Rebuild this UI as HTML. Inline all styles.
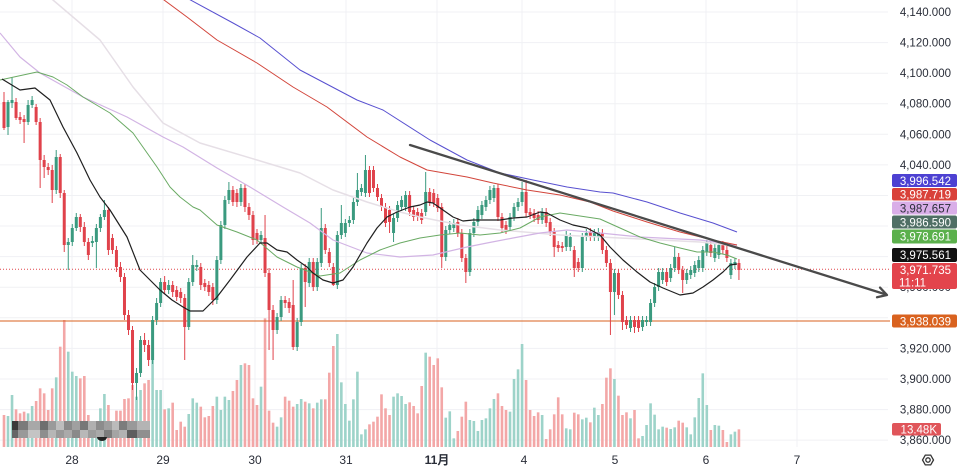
<!DOCTYPE html>
<html><head><meta charset="utf-8">
<style>
html,body{margin:0;padding:0;background:#fff;}
body{width:960px;height:472px;overflow:hidden;position:relative;font-family:"Liberation Sans","Noto Sans CJK SC",sans-serif;}
svg{position:absolute;left:0;top:0;}
.ax{font-family:"Liberation Sans",sans-serif;font-size:11.5px;fill:#2a2e39;}
.bx{font-family:"Liberation Sans",sans-serif;font-size:11.5px;fill:#fff;}
.dl{font-family:"Liberation Sans","Noto Sans CJK SC",sans-serif;font-size:12px;fill:#2a2e39;}
</style></head><body>
<svg id="c" width="960" height="472" viewBox="0 0 960 472" xmlns="http://www.w3.org/2000/svg">
<g stroke="#f0f1f4" stroke-width="1">
<line x1="0" x2="888" y1="12" y2="12"/><line x1="0" x2="888" y1="42.6" y2="42.6"/><line x1="0" x2="888" y1="73.2" y2="73.2"/><line x1="0" x2="888" y1="103.7" y2="103.7"/><line x1="0" x2="888" y1="134.3" y2="134.3"/><line x1="0" x2="888" y1="164.9" y2="164.9"/><line x1="0" x2="888" y1="195.5" y2="195.5"/><line x1="0" x2="888" y1="226" y2="226"/><line x1="0" x2="888" y1="256.6" y2="256.6"/><line x1="0" x2="888" y1="287.2" y2="287.2"/><line x1="0" x2="888" y1="317.8" y2="317.8"/><line x1="0" x2="888" y1="348.4" y2="348.4"/><line x1="0" x2="888" y1="379" y2="379"/><line x1="0" x2="888" y1="409.6" y2="409.6"/><line x1="0" x2="888" y1="440.1" y2="440.1"/>
<line x1="72" x2="72" y1="0" y2="447"/><line x1="163" x2="163" y1="0" y2="447"/><line x1="255" x2="255" y1="0" y2="447"/><line x1="346" x2="346" y1="0" y2="447"/><line x1="437" x2="437" y1="0" y2="447"/><line x1="522" x2="522" y1="0" y2="447"/><line x1="615" x2="615" y1="0" y2="447"/><line x1="706" x2="706" y1="0" y2="447"/><line x1="797" x2="797" y1="0" y2="447"/>
</g>
<g id="vol"></g>
<line x1="0" x2="890" y1="321" y2="321" stroke="#d9621f" stroke-width="1"/>
<line x1="0" x2="890" y1="269.3" y2="269.3" stroke="#e0474c" stroke-width="1" stroke-dasharray="1,2"/>
<g id="cand"></g>
<g fill="none" stroke-linejoin="round">
<polyline stroke="#e6dfe6" stroke-width="1.5" points="40,-10 53,0 100,40 133,87 163,123 200,143 257,160 300,173 333,190 367,202 400,212 420,217 460,225 500,230 560,235 620,238 700,242 737,246"/>
<polyline stroke="#d2b4e4" stroke-width="1.2" points="0,33 20,57 40,73 83,97 127,117 163,137 183,147 217,168 250,187 283,207 310,223 333,240 367,253 400,257 433,255 467,247 487,243 513,238 540,233 567,230 600,233 640,237 700,240 737,245"/>
<polyline stroke="#d2453b" stroke-width="1" points="160,-3 187,17 217,40 257,63 293,87 327,107 367,137 400,157 427,170 467,177 493,183 527,190 560,195 590,202 613,211 647,222 680,232 713,240 737,245"/>
<polyline stroke="#5850d0" stroke-width="1" points="185,-3 233,23 260,38 300,70 357,100 383,110 430,140 467,160 500,173 533,180 567,187 600,192 613,193 647,202 680,213 713,223 737,232"/>
<polyline stroke="#6aaa64" stroke-width="1" points="0,80 37,72 53,77 67,85 83,97 110,113 133,133 157,167 170,187 180,197 193,207 200,210 217,225 237,232 257,240 277,257 297,267 320,276 340,273 360,260 380,250 400,243 420,238 440,235 460,233 480,235 500,233 520,228 540,217 560,213 580,216 600,219 620,228 640,237 660,243 680,248 697,252 713,252 727,255 737,259"/>
<polyline stroke="#1f1f1f" stroke-width="1.2" points="2,79 20,90 35,88 50,100 63,127 77,153 90,180 100,197 110,210 127,237 140,270 157,287 160,290 172,300 183,307 190,311 203,311 217,297 230,280 247,257 260,243 267,243 277,250 287,252 297,260 307,267 313,273 323,280 333,283 343,280 353,267 367,243 377,228 387,217 397,212 410,207 420,205 427,202 433,203 443,210 453,217 463,221 473,220 487,220 500,220 513,218 527,217 540,212 547,213 560,220 573,225 587,228 600,235 610,247 623,260 637,272 650,282 663,288 680,295 693,293 703,287 713,280 723,272 730,265 737,264"/>
<line x1="410" y1="145" x2="886" y2="294.5" stroke="#4a4a4a" stroke-width="2.3" stroke-linecap="round"/>
<polyline stroke="#4a4a4a" stroke-width="2.3" stroke-linecap="round" points="880,287.6 887,295 877,297.2"/>
</g>
<g>
<rect x="12" y="421" width="6" height="9" fill="#3a3a3a"/><rect x="18" y="421" width="10" height="9" fill="#7a7a7a"/><rect x="28" y="421" width="12" height="9" fill="#a8a8a8"/><rect x="40" y="421" width="8" height="9" fill="#6e6e6e"/><rect x="48" y="421" width="8" height="9" fill="#9a9a9a"/><rect x="56" y="421" width="8" height="9" fill="#bdbdbd"/><rect x="64" y="421" width="8" height="9" fill="#8a8a8a"/><rect x="72" y="421" width="8" height="9" fill="#a0a0a0"/><rect x="80" y="421" width="8" height="9" fill="#777"/><rect x="88" y="421" width="8" height="9" fill="#b0b0b0"/><rect x="96" y="421" width="8" height="9" fill="#8c8c8c"/><rect x="104" y="421" width="8" height="9" fill="#9e9e9e"/><rect x="112" y="421" width="7" height="9" fill="#bbb"/><rect x="119" y="421" width="8" height="9" fill="#7c7c7c"/><rect x="127" y="421" width="10" height="9" fill="#999"/><rect x="137" y="421" width="13" height="9" fill="#b4b4b4"/>
<rect x="12" y="430" width="6" height="8" fill="#666"/><rect x="18" y="430" width="10" height="8" fill="#999"/><rect x="28" y="430" width="12" height="8" fill="#c4c4c4"/><rect x="40" y="430" width="8" height="8" fill="#8e8e8e"/><rect x="48" y="430" width="8" height="8" fill="#b6b6b6"/><rect x="56" y="430" width="8" height="8" fill="#999"/><rect x="64" y="430" width="8" height="8" fill="#aaa"/><rect x="72" y="430" width="8" height="8" fill="#8a8a8a"/><rect x="80" y="430" width="8" height="8" fill="#b8b8b8"/><rect x="88" y="430" width="8" height="8" fill="#9c9c9c"/><rect x="96" y="430" width="8" height="8" fill="#a9a9a9"/><rect x="104" y="430" width="8" height="8" fill="#7d7d7d"/><rect x="112" y="430" width="7" height="8" fill="#a4a4a4"/><rect x="119" y="430" width="8" height="8" fill="#b2b2b2"/><rect x="127" y="430" width="10" height="8" fill="#5e5e5e"/><rect x="137" y="430" width="13" height="8" fill="#8f8f8f"/>
<path d="M97,437 a5,4 0 0 0 10,0" fill="#222"/>
</g>
<g class="ax" text-anchor="end">
<text x="951" y="16">4,140.000</text><text x="951" y="46.6">4,120.000</text><text x="951" y="77.2">4,100.000</text><text x="951" y="107.7">4,080.000</text><text x="951" y="138.3">4,060.000</text><text x="951" y="168.9">4,040.000</text>
<text x="951" y="291.2">3,960.000</text>
<text x="951" y="352.4">3,920.000</text><text x="951" y="383">3,900.000</text><text x="951" y="413.6">3,880.000</text><text x="951" y="444.1">3,860.000</text>
</g>
<g>
<rect x="892" y="174" width="65" height="13" rx="2" fill="#4d41d2"/>
<rect x="892" y="188" width="65" height="12.5" rx="2" fill="#d9413a"/>
<rect x="892" y="201.5" width="65" height="13" rx="2" fill="#d9aee8"/>
<rect x="892" y="215.5" width="65" height="13" rx="2" fill="#4f6f65"/>
<rect x="892" y="229.5" width="65" height="14" rx="2" fill="#5bb04c"/>
<rect x="892" y="248" width="65" height="14" rx="2" fill="#111"/>
<rect x="892" y="263" width="65" height="26" rx="2" fill="#e3444c"/>
<rect x="892" y="314.5" width="65" height="13" rx="2" fill="#d9621f"/>
<rect x="892" y="423" width="49" height="12.5" rx="2" fill="#e0555a"/>
</g>
<g class="bx" text-anchor="end">
<text x="951" y="185">3,996.542</text>
<text x="951" y="198.5">3,987.719</text>
<text x="951" y="212.5" style="fill:#2a2e39">3,987.657</text>
<text x="951" y="226.5">3,986.590</text>
<text x="951" y="240.5">3,978.691</text>
<text x="951" y="259">3,975.561</text>
<text x="951" y="274">3,971.735</text>
<text x="899" y="286.5" text-anchor="start">11:11</text>
<text x="951" y="325.5">3,938.039</text>
<text x="937" y="433.5">13.48K</text>
</g>
<g class="dl" text-anchor="middle">
<text x="72" y="464">28</text><text x="163" y="464">29</text><text x="255" y="464">30</text><text x="346" y="464">31</text><text x="437" y="464" font-weight="bold">11月</text><text x="524" y="464">4</text><text x="615" y="464">5</text><text x="706" y="464">6</text><text x="797" y="464">7</text>
</g>
<g fill="none" stroke="#333" stroke-width="1.3">
<polygon points="933.5,460 930.7,464.9 925.3,464.9 922.5,460 925.3,455.1 930.7,455.1"/>
<circle cx="928" cy="460" r="2.2"/>
</g>
</svg>
<script>
(function(){
var C=[[102,128,92,130],[127,102,100,135],[103,100,77,108],[102,118,98,120],[117,120,112,124],[119,122,115,143],[122,105,100,125],[105,100,96,108],[107,122,104,125],[122,160,118,188],
[160,167,155,178],[167,170,163,175],[170,190,165,203],[190,157,150,194],[157,193,154,198],[193,245,190,252],[245,242,238,270],[242,228,224,246],[228,217,213,231],[217,227,214,232],
[227,242,222,246],[242,255,238,260],[243,241,236,247],[242,228,224,268],[228,217,214,232],[217,210,200,220],[210,250,207,255],[238,250,234,254],[250,267,246,272],[267,277,262,282],
[277,315,273,320],[315,330,310,335],[330,383,326,390],[383,373,368,400],[373,340,336,377],[340,345,333,352],[345,360,340,366],[360,320,316,364],[320,303,298,325],[303,282,278,307],
[282,290,276,294],[290,285,280,294],[285,292,281,297],[290,297,286,301],[292,298,288,303],[298,327,294,360],[327,282,278,330],[282,265,255,286],[267,265,260,271],[267,285,263,290],
[283,287,279,291],[285,292,281,296],[287,300,283,305],[300,260,256,304],[260,225,221,264],[225,200,196,229],[200,190,182,204],[190,202,186,206],[193,202,189,207],[202,188,184,206],
[188,207,184,212],[207,215,203,220],[215,240,211,245],[233,240,229,244],[240,235,231,244],[238,273,215,277],[273,310,268,350],[310,330,305,360],[330,317,313,334],[317,300,296,321],
[300,303,296,308],[302,308,298,313],[305,347,280,350],[347,322,318,351],[322,268,264,326],[268,282,264,307],[283,262,258,287],[262,287,258,291],[287,262,258,291],[263,228,208,267],
[228,250,224,254],[252,263,248,267],[267,285,263,286],[285,235,231,289],[235,223,205,239],[233,223,219,237],[223,220,216,227],[220,202,198,224],[202,190,173,206],[192,188,184,196],
[193,170,155,197],[170,193,166,197],[170,188,166,192],[188,197,184,201],[198,207,194,211],[207,223,203,227],[210,222,206,233],[233,218,214,242],[218,205,201,222],[207,200,196,211],
[207,195,191,211],[195,212,191,216],[210,217,206,221],[212,217,208,221],[213,220,209,224],[212,192,172,216],[192,202,188,206],[193,203,189,207],[198,208,194,212],[207,257,203,268],
[257,230,226,261],[230,225,221,234],[228,223,219,232],[222,233,218,237],[233,258,229,262],[258,272,254,283],[272,233,229,276],[233,222,218,237],[222,210,206,226],[215,205,201,219],
[207,200,196,211],[200,190,186,204],[198,188,185,202],[188,217,184,221],[217,228,213,232],[225,230,221,234],[227,217,213,231],[217,207,203,221],[207,202,198,211],[202,192,182,206],
[192,213,180,217],[212,215,208,219],[213,218,209,222],[215,220,211,224],[220,212,208,224],[212,223,208,227],[222,232,218,236],[232,247,228,257],[245,248,241,252],[246,248,242,252],
[247,235,231,251],[247,237,233,251],[250,268,246,277],[262,268,258,272],[268,237,233,272],[237,233,229,241],[232,237,228,241],[237,233,229,241],[237,232,228,241],[233,250,229,254],
[250,263,246,267],[263,292,259,335],[292,273,269,315],[273,295,269,299],[295,322,291,330],[320,325,316,329],[328,320,316,332],[320,327,316,333],[320,328,316,332],[327,320,316,331],
[322,320,316,326],[322,303,299,326],[303,287,283,307],[287,272,268,291],[280,272,268,284],[272,282,268,286],[278,268,264,282],[268,257,247,272],[257,270,253,274],[270,280,266,293],
[280,273,269,284],[275,270,266,279],[273,265,261,277],[268,260,256,272],[268,250,246,272],[252,243,240,256],[245,253,241,257],[258,248,244,262],[255,245,241,259],[245,250,241,254],
[250,258,246,262],[275,263,259,279],[265,262,258,269],[263,270,259,280]];
var V=[255,258,195,238,250,245,250,228,213,175,190,240,175,142,50,-30,65,125,138,145,138,255,290,290,235,192,225,275,242,242,207,205,165,200,180,160,150,90,180,180,238,235,218,300,275,290,252,205,218,230,262,258,228,200,240,200,210,183,150,105,100,105,205,225,170,-35,242,278,290,262,200,212,230,222,207,215,220,235,218,208,208,128,48,12,157,222,272,208,125,313,298,283,275,260,
193,235,255,200,190,198,222,217,228,250,168,68,80,105,85,172,263,244,325,303,260,215,270,273,303,270,265,235,207,190,228,240,245,147,118,42,150,240,258,247,255,327,298,253,202,253,295,298,248,253,268,263,277,233,255,222,143,115,147,197,255,247,265,240,325,318,285,220,254,298,290,293,297,292,272,278,292,313,262,204,130,225,300,285,287,300,336,313,305,298];
var S=4.016,X0=4,G='#3a9a7f',R='#e0424b',GV='#9dd3c9',RV='#f3a7a7';
var vol='',wk='',bd='';
for(var i=0;i<C.length;i++){
 var c=C[i],x=X0+S*i,o=c[0],cl=c[1],h=c[2],l=c[3],up=cl<=o,col=up?G:R;
 var top=Math.min(o,cl),bh=Math.max(Math.abs(o-cl),1);
 wk+='<line x1="'+x+'" x2="'+x+'" y1="'+h+'" y2="'+l+'" stroke="'+col+'" stroke-width="1"/>';
 bd+='<rect x="'+(x-1.5)+'" y="'+top+'" width="3" height="'+bh+'" fill="'+col+'"/>';
 if(i<V.length){var vt=330+V[i]/3;vol+='<rect x="'+(x-1.3)+'" y="'+vt+'" width="2.6" height="'+(447-vt)+'" fill="'+(up?GV:RV)+'"/>';}
}
document.getElementById('vol').innerHTML=vol;
document.getElementById('cand').innerHTML=wk+bd;
})();
</script>
</body></html>
